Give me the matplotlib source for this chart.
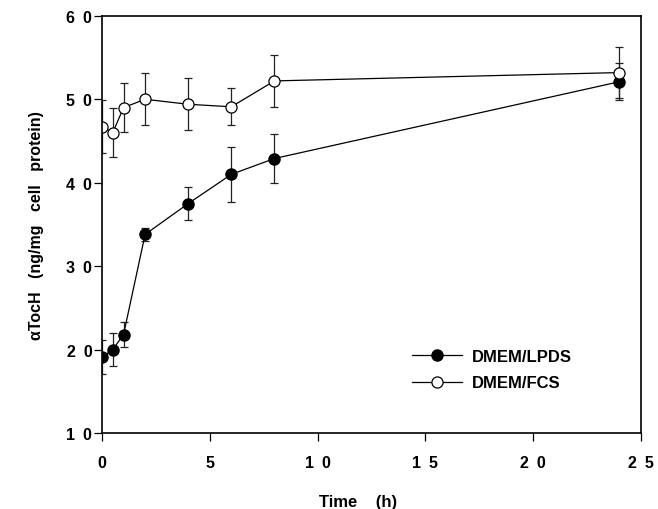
import matplotlib.pyplot as plt

# heures
temps = [0, 0.5, 1, 2, 4, 6, 8, 24]

lpds = [19.1, 20.0, 21.8, 33.8, 37.5, 41.0, 42.9, 52.1]
lpds_err = [2.0, 2.0, 1.5, 0.8, 2.0, 3.3, 2.9, 2.2]

fcs = [46.7, 46.0, 49.0, 50.0, 49.4, 49.1, 52.2, 53.2]
fcs_err = [3.2, 2.9, 2.9, 3.1, 3.1, 2.2, 3.1, 3.1]

esp = "\u2002"
xticks = [0, 5, 10, 15, 20, 25]
xticklabels = ["0", "5", f"1{esp}0", f"1{esp}5", f"2{esp}0", f"2{esp}5"]
yticks = [10, 20, 30, 40, 50, 60]
yticklabels = [f"{d}{esp}0" for d in range(1, 7)]

plt.rcParams["font.family"] = ["Liberation Sans", "DejaVu Sans"]
plt.rcParams["font.weight"] = "bold"

fig = plt.figure(figsize=(6.58, 5.10), dpi=100)
ax = fig.add_axes([0.155, 0.149, 0.819, 0.818])

style_err = dict(ecolor="#222222", elinewidth=0.9, capsize=3, capthick=0.9)

ax.errorbar(temps, lpds, yerr=lpds_err, fmt="-o", color="black", lw=0.9,
            markersize=8, markerfacecolor="black", markeredgecolor="black",
            label="DMEM/LPDS", **style_err)
ax.errorbar(temps, fcs, yerr=fcs_err, fmt="-o", color="black", lw=0.9,
            markersize=8, markerfacecolor="white", markeredgecolor="black",
            markeredgewidth=0.9, label="DMEM/FCS", **style_err)

ax.set_xlim(0, 25)
ax.set_ylim(10, 60)
ax.set_xticks(xticks)
ax.set_xticklabels(xticklabels, fontsize=11.5, fontweight="bold")
ax.set_yticks(yticks)
ax.set_yticklabels(yticklabels, fontsize=11.5, fontweight="bold")
ax.tick_params(axis="x", direction="out", length=6, width=0.9, pad=10)
ax.tick_params(axis="y", direction="out", length=6, width=0.9, pad=1)
for s in ax.spines.values():
    s.set_linewidth(1.2)

ax.set_xlabel("Time    (h)", fontsize=12, fontweight="bold")
ax.xaxis.set_label_coords(0.475, -0.145)
ax.set_ylabel("αTocH   (ng/mg   cell   protein)", fontsize=11.5,
              fontweight="bold")
ax.yaxis.set_label_coords(-0.108, 0.5)

handles, labels_legende = ax.get_legend_handles_labels()
handles = [h[0] for h in handles]
ax.legend(handles, labels_legende, loc="upper left", bbox_to_anchor=(0.576, 0.202),
          frameon=False, handlelength=3.0, handletextpad=0.55, labelspacing=0.7,
          borderpad=0, borderaxespad=0,
          prop={"weight": "bold", "size": 12})

fig.savefig("out.png", dpi=100)
